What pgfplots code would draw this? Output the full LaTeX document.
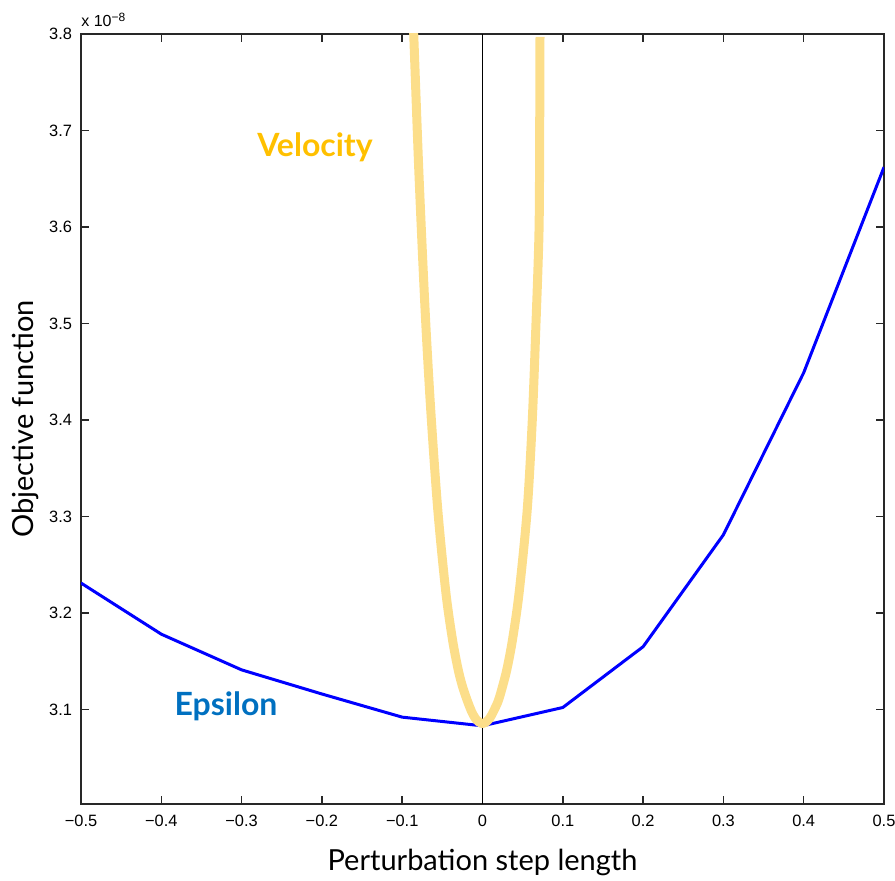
\documentclass[border=0pt]{standalone}
\usepackage{fontspec}
\setmainfont{Lato}
\newfontfamily\arialf{Liberation Sans}
\usepackage{pgfplots}
\pgfplotsset{compat=1.18}
\definecolor{velo}{RGB}{252,222,138}
\definecolor{velotext}{RGB}{255,192,0}
\definecolor{epstext}{RGB}{0,112,192}
\definecolor{axgray}{RGB}{40,40,40}
\begin{document}
\begin{tikzpicture}
\path[use as bounding box] (-40.5pt,-38.5pt) rectangle (407pt,402pt);
\begin{axis}[
  name=ax,
  at={(0,0)}, anchor=south west,
  scale only axis, width=401.5pt, height=385pt,
  xmin=-0.5, xmax=0.5, ymin=3.002, ymax=3.8,
  xtick={-0.5,-0.4,-0.3,-0.2,-0.1,0,0.1,0.2,0.3,0.4,0.5},
  xticklabels={−0.5,−0.4,−0.3,−0.2,−0.1,0,0.1,0.2,0.3,0.4,0.5},
  ytick={3.1,3.2,3.3,3.4,3.5,3.6,3.7,3.8},
  yticklabels={3.1,3.2,3.3,3.4,3.5,3.6,3.7,3.8},
  tick align=inside, major tick length=4pt,
  axis line style={axgray, line width=0.75pt},
  tick style={axgray, line width=0.75pt},
  ticklabel style={font=\arialf\fontsize{8.2}{9}\selectfont},
  xticklabel style={yshift=-2pt},
  yticklabel style={xshift=-1pt},
  xlabel={Perturbation step length},
  ylabel={Objective function},
  label style={font=\fontsize{14.5}{16}\selectfont},
  xlabel style={at={(axis description cs:0.5,-0.0753)}, anchor=center},
  ylabel style={at={(axis description cs:-0.0697,0.5)}, anchor=center},
]
% vertical line at zero
\addplot[black, line width=0.6pt] coordinates {(0,3.002) (0,3.8)};
% Epsilon
\addplot[blue, line width=1.5pt, line join=round] coordinates {
  (-0.5,3.231) (-0.4,3.178) (-0.3,3.141) (-0.2,3.116) (-0.1,3.092)
  (0,3.083) (0.1,3.102) (0.2,3.165) (0.3,3.281) (0.4,3.449) (0.5,3.662)
};
% Velocity
\addplot[velo, line width=4.5pt, line join=round, line cap=butt, smooth, tension=0.5] coordinates {
  (-0.0869,3.830) (-0.0847,3.778) (-0.0790,3.652) (-0.0715,3.514) (-0.0646,3.412)
  (-0.0557,3.307) (-0.0456,3.221) (-0.0373,3.172) (-0.0305,3.142) (-0.0250,3.124)
  (-0.0189,3.109) (-0.0137,3.098) (-0.0092,3.0911) (-0.0047,3.0870) (0,3.0855)
  (0.0047,3.0870) (0.0092,3.0911) (0.0137,3.098) (0.0197,3.109) (0.0250,3.124)
  (0.0305,3.142) (0.0373,3.172) (0.0456,3.221) (0.0557,3.307) (0.0620,3.400)
  (0.0666,3.500) (0.0704,3.597) (0.0712,3.698) (0.0716,3.797)
};
\node[font=\bfseries\fontsize{16}{18}\selectfont, text=velotext] at (axis cs:-0.2086,3.683) {Velocity};
\node[font=\bfseries\fontsize{16}{18}\selectfont, text=epstext] at (axis cs:-0.3194,3.103) {Epsilon};
\end{axis}
\node[anchor=base west, inner sep=0pt, font=\arialf\fontsize{8}{9}\selectfont] at ([yshift=3.75pt]ax.north west) {x 10\raisebox{0.55ex}{\fontsize{6}{7}\selectfont −8}};
\end{tikzpicture}
\end{document}
